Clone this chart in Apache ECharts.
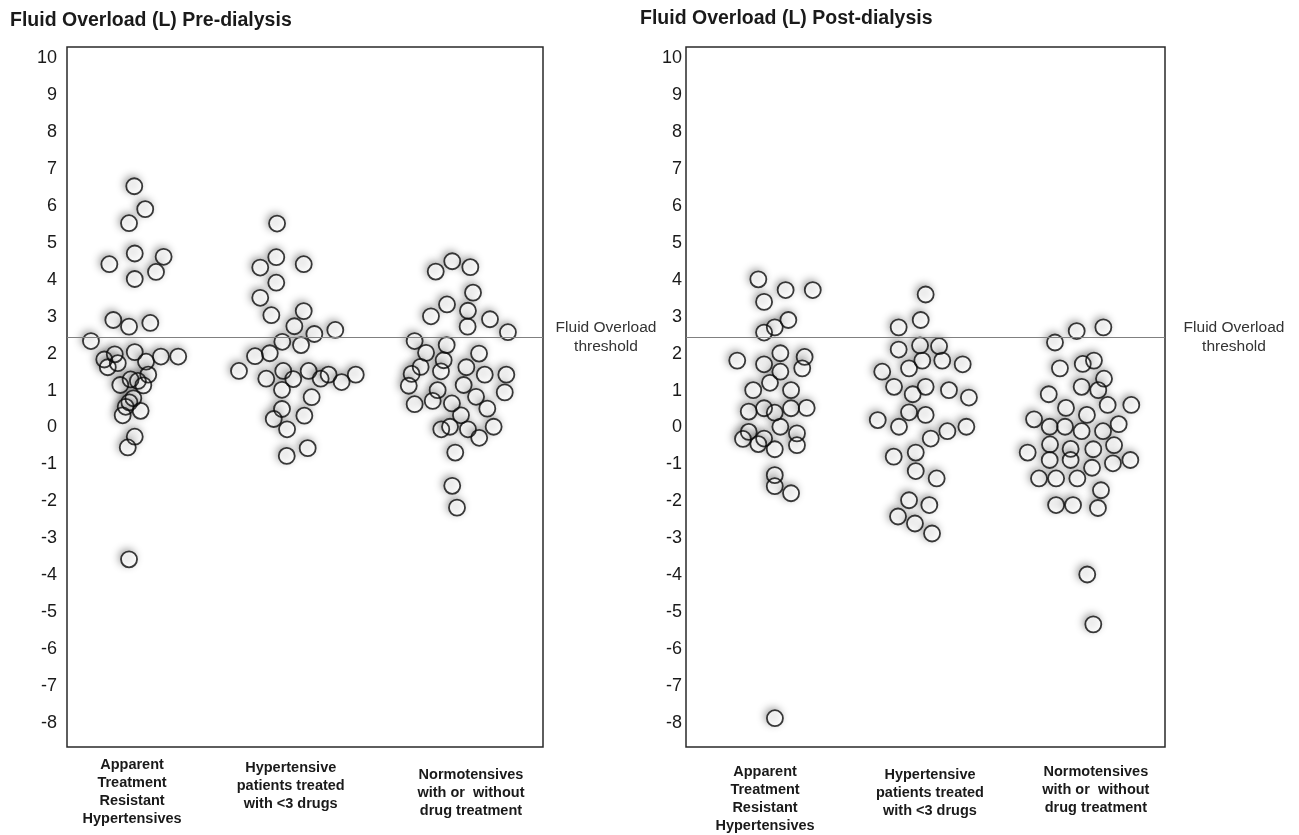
<!DOCTYPE html>
<html>
<head>
<meta charset="utf-8">
<script src="https://cdn.jsdelivr.net/npm/echarts@6/dist/echarts.min.js"></script>
<style>
html,body{margin:0;padding:0;background:#fff;}
#chart{width:1299px;height:835px;}
</style>
</head>
<body>
<div id="chart"></div>
<script>
// ---- data ----
const categories = [
  'Apparent\nTreatment\nResistant\nHypertensives',
  'Hypertensive\npatients treated\nwith <3 drugs',
  'Normotensives\nwith or  without\ndrug treatment'
];
const yTicks = [-8,-7,-6,-5,-4,-3,-2,-1,0,1,2,3,4,5,6,7,8,9,10];
const threshold = 2.43;
const thresholdLabel = 'Fluid Overload\nthreshold';
const titlePre = 'Fluid Overload (L) Pre-dialysis';
const titlePost = 'Fluid Overload (L) Post-dialysis';

// [horizontal jitter position on 0..3 group axis, fluid overload (L)]
const preResistant = [[0.424,6.53],[0.493,5.91],[0.391,5.53],[0.427,4.71],[0.609,4.62],[0.267,4.42],[0.561,4.21],[0.427,4.02],[0.292,2.91],[0.525,2.83],[0.391,2.73],[0.151,2.34],[0.427,2.04],[0.592,1.92],[0.701,1.92],[0.301,1.98],[0.235,1.84],[0.320,1.74],[0.257,1.63],[0.498,1.78],[0.512,1.43],[0.336,1.15],[0.401,1.30],[0.447,1.26],[0.481,1.14],[0.418,0.79],[0.393,0.68],[0.370,0.56],[0.351,0.33],[0.464,0.45],[0.427,-0.25],[0.383,-0.54],[0.391,-3.57]];
const preTreated = [[1.324,5.52],[1.319,4.61],[1.218,4.33],[1.492,4.42],[1.319,3.92],[1.218,3.51],[1.288,3.04],[1.492,3.15],[1.433,2.74],[1.691,2.64],[1.559,2.53],[1.357,2.32],[1.475,2.23],[1.278,2.01],[1.185,1.93],[1.084,1.53],[1.256,1.32],[1.363,1.53],[1.426,1.31],[1.523,1.53],[1.599,1.32],[1.649,1.43],[1.731,1.23],[1.820,1.43],[1.355,1.02],[1.542,0.82],[1.355,0.50],[1.303,0.23],[1.496,0.32],[1.387,-0.05],[1.385,-0.77],[1.517,-0.56]];
const preNormo = [[2.428,4.50],[2.324,4.22],[2.542,4.34],[2.559,3.65],[2.395,3.33],[2.294,3.01],[2.527,3.16],[2.525,2.73],[2.666,2.93],[2.779,2.58],[2.191,2.34],[2.393,2.23],[2.263,2.02],[2.597,2.00],[2.374,1.82],[2.229,1.64],[2.357,1.52],[2.172,1.45],[2.517,1.63],[2.633,1.43],[2.769,1.43],[2.154,1.13],[2.500,1.15],[2.336,1.01],[2.578,0.83],[2.759,0.95],[2.191,0.63],[2.305,0.72],[2.426,0.65],[2.649,0.51],[2.483,0.33],[2.359,-0.05],[2.414,0.02],[2.527,-0.05],[2.598,-0.28],[2.689,0.02],[2.447,-0.68],[2.428,-1.58],[2.458,-2.17]];
const postResistant = [[0.453,4.01],[0.624,3.72],[0.794,3.72],[0.489,3.40],[0.641,2.91],[0.556,2.71],[0.489,2.57],[0.321,1.81],[0.489,1.71],[0.591,2.01],[0.743,1.91],[0.728,1.60],[0.591,1.51],[0.526,1.21],[0.421,1.01],[0.658,1.01],[0.393,0.43],[0.489,0.52],[0.556,0.40],[0.658,0.52],[0.756,0.53],[0.591,0.02],[0.393,-0.12],[0.357,-0.31],[0.489,-0.30],[0.453,-0.45],[0.556,-0.59],[0.695,-0.16],[0.695,-0.48],[0.556,-1.29],[0.556,-1.59],[0.658,-1.78],[0.557,-7.87]];
const postTreated = [[1.501,3.60],[1.470,2.91],[1.332,2.71],[1.332,2.11],[1.466,2.22],[1.585,2.20],[1.480,1.81],[1.605,1.81],[1.733,1.71],[1.397,1.60],[1.229,1.51],[1.303,1.10],[1.501,1.10],[1.420,0.90],[1.647,1.01],[1.772,0.81],[1.397,0.41],[1.501,0.34],[1.201,0.20],[1.334,0.02],[1.637,-0.10],[1.756,0.02],[1.533,-0.30],[1.301,-0.79],[1.439,-0.68],[1.439,-1.18],[1.570,-1.38],[1.397,-1.97],[1.524,-2.10],[1.328,-2.41],[1.434,-2.60],[1.541,-2.87]];
const postNormo = [[2.614,2.71],[2.447,2.61],[2.311,2.30],[2.555,1.81],[2.485,1.72],[2.342,1.60],[2.618,1.32],[2.478,1.10],[2.582,1.01],[2.272,0.90],[2.380,0.53],[2.641,0.61],[2.789,0.61],[2.511,0.34],[2.180,0.22],[2.278,0.02],[2.374,0.02],[2.478,-0.10],[2.612,-0.10],[2.710,0.09],[2.280,-0.46],[2.409,-0.58],[2.551,-0.59],[2.681,-0.48],[2.140,-0.68],[2.278,-0.88],[2.409,-0.88],[2.674,-0.97],[2.783,-0.88],[2.543,-1.09],[2.211,-1.38],[2.318,-1.38],[2.451,-1.38],[2.599,-1.70],[2.318,-2.10],[2.424,-2.10],[2.580,-2.18],[2.513,-3.98],[2.551,-5.33]];

// ---- layout / style ----
const FONT = '"Liberation Sans", Arial, Helvetica, sans-serif';
const labelPosPre = [0.41, 1.41, 2.546];
const labelPosPost = [0.495, 1.528, 2.567];
const spacerPre = [7, 10, 17];
const spacerPost = [14, 17, 14];

function catFormatter(spacers) {
  return function (value) {
    const i = Math.min(2, Math.max(0, Math.floor(value)));
    const lines = categories[i].split('\n').map(l => '{t|' + l + '}');
    return '{s' + i + '| }\n' + lines.join('\n');
  };
}
function catRich(spacers) {
  const r = { t: { fontFamily: FONT, fontSize: 14.5, fontWeight: 'bold', color: '#1a1a1a', lineHeight: 18 } };
  spacers.forEach((h, i) => { r['s' + i] = { fontSize: 1, lineHeight: h }; });
  return r;
}

// underlay: white discs with soft shadow; overlay: outlines only
const fillStyle = {
  color: '#ffffff',
  borderWidth: 0,
  shadowBlur: 8,
  shadowColor: 'rgba(0,0,0,0.55)',
  shadowOffsetX: -2,
  shadowOffsetY: -2
};
const ringStyle = {
  color: 'rgba(255,255,255,0)',
  borderColor: '#0a0a0a',
  borderWidth: 1.8
};

function scatterFill(data, gi) {
  return {
    type: 'scatter', xAxisIndex: gi, yAxisIndex: gi, data: data,
    symbol: 'circle', symbolSize: 16, itemStyle: fillStyle,
    silent: true, z: 2
  };
}
function scatterRing(data, gi) {
  return {
    type: 'scatter', xAxisIndex: gi, yAxisIndex: gi, data: data,
    symbol: 'circle', symbolSize: 16, itemStyle: ringStyle,
    silent: true, z: 4
  };
}
function thresholdSeries(gi) {
  return {
    type: 'line', xAxisIndex: gi, yAxisIndex: gi, data: [], z: 3,
    markLine: {
      silent: true, symbol: 'none', animation: false,
      label: { show: false },
      lineStyle: { color: '#808080', width: 1.2, type: 'solid' },
      data: [{ yAxis: threshold }]
    }
  };
}

const yAxisBase = (margin) => ({
  type: 'value', min: -8.65, max: 10.3,
  axisLine: { show: false }, axisTick: { show: false }, splitLine: { show: false },
  axisLabel: { customValues: yTicks, margin: margin, fontFamily: FONT, fontSize: 18, color: '#1a1a1a' }
});
const xAxisBase = (pos, spacers) => ({
  type: 'value', min: 0, max: 3,
  axisLine: { show: false }, axisTick: { show: false }, splitLine: { show: false },
  axisLabel: { customValues: pos, margin: 2, formatter: catFormatter(spacers), rich: catRich(spacers), align: 'center' }
});

const titleStyle = { fontFamily: FONT, fontSize: 19.5, fontWeight: 'bold', color: '#1a1a1a' };
const threshStyle = { fontFamily: FONT, fontSize: 15.5, fontWeight: 'normal', color: '#333', lineHeight: 19 };

const chart = echarts.init(document.getElementById('chart'), null, { renderer: 'canvas' });
chart.setOption({
  animation: false,
  backgroundColor: '#ffffff',
  title: [
    { text: titlePre, left: 10, top: 11, padding: 0, textStyle: titleStyle },
    { text: titlePost, left: 640, top: 9, padding: 0, textStyle: titleStyle },
    { text: thresholdLabel, left: 606, top: 318, padding: 0, textAlign: 'center', textStyle: threshStyle },
    { text: thresholdLabel, left: 1234, top: 318, padding: 0, textAlign: 'center', textStyle: threshStyle }
  ],
  grid: [
    { left: 67, top: 47, width: 476, height: 700, show: true, borderColor: '#2a2a2a', borderWidth: 1.5, backgroundColor: 'transparent' },
    { left: 686, top: 47, width: 479, height: 700, show: true, borderColor: '#2a2a2a', borderWidth: 1.5, backgroundColor: 'transparent' }
  ],
  xAxis: [
    Object.assign({ gridIndex: 0 }, xAxisBase(labelPosPre, spacerPre)),
    Object.assign({ gridIndex: 1 }, xAxisBase(labelPosPost, spacerPost))
  ],
  yAxis: [
    Object.assign({ gridIndex: 0 }, yAxisBase(10)),
    Object.assign({ gridIndex: 1 }, yAxisBase(4))
  ],
  series: [
    thresholdSeries(0), thresholdSeries(1),
    scatterFill(preResistant, 0), scatterFill(preTreated, 0), scatterFill(preNormo, 0),
    scatterFill(postResistant, 1), scatterFill(postTreated, 1), scatterFill(postNormo, 1),
    scatterRing(preResistant, 0), scatterRing(preTreated, 0), scatterRing(preNormo, 0),
    scatterRing(postResistant, 1), scatterRing(postTreated, 1), scatterRing(postNormo, 1)
  ]
});
</script>
</body>
</html>
